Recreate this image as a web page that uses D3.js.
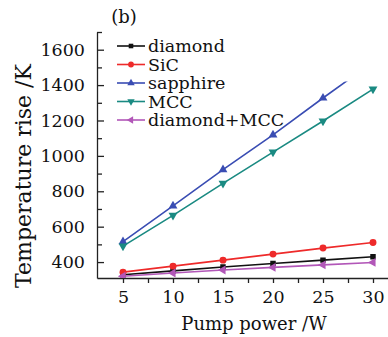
<!DOCTYPE html>
<html>
<head>
<meta charset="utf-8">
<script src="https://cdn.jsdelivr.net/npm/d3@7"></script>
<style>
  body { margin: 0; background: #fff; }
  text { font-family: "DejaVu Serif", serif; fill: #111; }
</style>
</head>
<body>
<svg id="chart"></svg>
<script>
const w = 388;
const h = 337;

// pump power (W)
const power = [5, 10, 15, 20, 25, 30];
// temperature rise (K)
const diamond = [328, 350, 372, 392, 411, 430];
const sic = [343, 377, 411, 445, 479, 511];
const sapphire = [515, 717, 922, 1119, 1327, 1530];
const mcc = [490, 664, 845, 1021, 1197, 1377];
const diamondMcc = [320, 338, 355, 370, 384, 398];

const xTicks = [5, 10, 15, 20, 25, 30];
const yTicks = [400, 600, 800, 1000, 1200, 1400, 1600];

const series = [
  {name: "diamond", values: diamond, color: "#111111", symbol: d3.symbolSquare, rot: 0, size: 30},
  {name: "SiC", values: sic, color: "#ee2a2a", symbol: d3.symbolCircle, rot: 0, size: 38},
  {name: "sapphire", values: sapphire, color: "#3a4db3", symbol: d3.symbolTriangle, rot: 0, size: 34},
  {name: "MCC", values: mcc, color: "#1a8a82", symbol: d3.symbolTriangle, rot: 180, size: 34},
  {name: "diamond+MCC", values: diamondMcc, color: "#b257b8", symbol: d3.symbolTriangle, rot: -90, size: 34}
];

var chart = d3.select("#chart")
  .attr("width", w)
  .attr("height", h);

const xScale = d3.scaleLinear()
                 .domain([2.4, 31.5])
                 .range([97, 388]);

const yScale = d3.scaleLinear()
                 .domain([310, 1700])
                 .range([278, 32]);

// data area is cut off just above 1400 K in the original
chart.append("clipPath")
     .attr("id", "clip")
     .append("rect")
     .attr("x", xScale.range()[0])
     .attr("y", yScale(1420))
     .attr("width", xScale.range()[1] - xScale.range()[0])
     .attr("height", yScale.range()[0] - yScale(1420));

// minor ticks
const xMinor = d3.range(7.5, 31, 5);
const yMinor = d3.range(500, 1701, 200);

chart.append("g")
     .attr("transform", `translate(0, ${yScale.range()[0]})`)
     .call(d3.axisBottom(xScale).tickValues(xMinor).tickSize(5).tickFormat(""))
     .call(g => g.select(".domain").remove());

chart.append("g")
     .attr("transform", `translate(${xScale.range()[0]}, 0)`)
     .call(d3.axisRight(yScale).tickValues(yMinor).tickSize(5).tickFormat(""))
     .call(g => g.select(".domain").remove());

const xAxis = d3.axisBottom(xScale).tickValues(xTicks).tickSize(5).tickSizeOuter(0).tickPadding(8);
const yAxis = d3.axisLeft(yScale).tickValues(yTicks).tickFormat(d3.format("d"))
                .tickSize(-7).tickSizeOuter(0).tickPadding(12);

chart.append("g")
     .attr("id", "x-axis")
     .attr("transform", `translate(0, ${yScale.range()[0]})`)
     .call(xAxis)
     .call(g => g.selectAll("text").attr("font-size", 17.5).attr("font-family", "DejaVu Serif"));

chart.append("g")
     .attr("id", "y-axis")
     .attr("transform", `translate(${xScale.range()[0]}, 0)`)
     .call(yAxis)
     .call(g => g.selectAll("text").attr("font-size", 17.5).attr("font-family", "DejaVu Serif"));

chart.selectAll(".domain, .tick line").attr("stroke", "#222").attr("stroke-width", 1.3);

const line = d3.line()
               .x((d, i) => xScale(power[i]))
               .y(d => yScale(d));

var plot = chart.append("g").attr("clip-path", "url(#clip)");

series.forEach(s => {
  plot.append("path")
      .datum(s.values)
      .attr("fill", "none")
      .attr("stroke", s.color)
      .attr("stroke-width", 1.6)
      .attr("d", line);

  plot.selectAll(null)
      .data(s.values)
      .enter()
      .append("path")
      .attr("d", d3.symbol(s.symbol, s.size))
      .attr("fill", s.color)
      .attr("transform", (d, i) => `translate(${xScale(power[i])}, ${yScale(d)}) rotate(${s.rot})`);
});

// legend
var legend = chart.append("g");
series.forEach((s, i) => {
  const y = 46 + i * 18.5;
  legend.append("line")
        .attr("x1", 117).attr("x2", 145)
        .attr("y1", y).attr("y2", y)
        .attr("stroke", s.color)
        .attr("stroke-width", 1.6);
  legend.append("path")
        .attr("d", d3.symbol(s.symbol, s.size * 0.7))
        .attr("fill", s.color)
        .attr("transform", `translate(131, ${y}) rotate(${s.rot})`);
  legend.append("text")
        .attr("x", 148)
        .attr("y", y + 6)
        .attr("font-size", 17.5)
        .text(s.name);
});

chart.append("text")
     .attr("x", 124)
     .attr("y", 23)
     .attr("text-anchor", "middle")
     .attr("font-size", 18)
     .text("(b)");

chart.append("text")
     .attr("x", 254)
     .attr("y", 330)
     .attr("text-anchor", "middle")
     .attr("font-size", 18)
     .text("Pump power /W");

chart.append("text")
     .attr("transform", "translate(31, 176) rotate(-90)")
     .attr("text-anchor", "middle")
     .attr("font-size", 22)
     .text("Temperature rise /K");
</script>
</body>
</html>
